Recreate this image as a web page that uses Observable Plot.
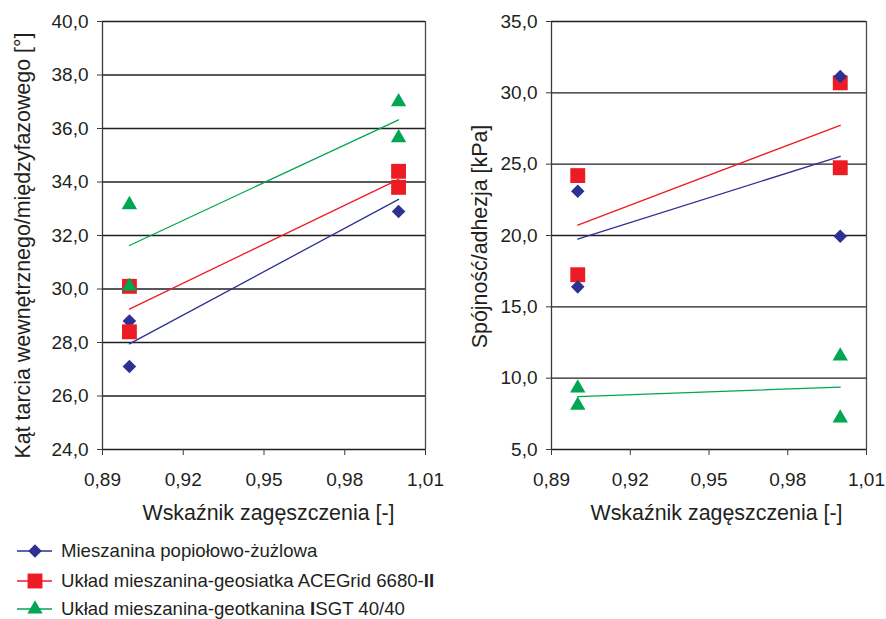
<!DOCTYPE html>
<html><head><meta charset="utf-8">
<script src="https://cdn.jsdelivr.net/npm/d3@7"></script>
<script src="https://cdn.jsdelivr.net/npm/@observablehq/plot@0.6"></script>
<style>
body{margin:0;background:#fff;font-family:"Liberation Sans",Arial,sans-serif;color:#231f20;}
#wrap{position:relative;width:886px;height:619px;overflow:hidden;}
#left{position:absolute;left:0;top:0}
#right{position:absolute;left:443px;top:0}
.lg{position:absolute;left:0;height:24px;width:700px;}
.lg svg{position:absolute;left:15px;top:0}
.lg span{position:absolute;left:61px;top:0;line-height:24px;font-size:18.6px;white-space:nowrap}
</style></head><body>
<div id="wrap"><div id="left"></div><div id="right"></div><div id="legend"></div></div>
<script>
// ---- data ----
const seriesNames = [
  "Mieszanina popiołowo-żużlowa",
  "Układ mieszanina-geosiatka ACEGrid 6680-II",
  "Układ mieszanina-geotkanina ISGT 40/40"
];
const seriesColors = ["#2E3192", "#ED1C24", "#00A651"];
const seriesSymbols = ["diamond2", "square", "triangle"];
const symbolRadius = [6.1, 8.4, 5.7];

const xValues = [0.90, 0.90, 1.00, 1.00];
// Kąt tarcia [°]
const phiMix  = [28.8, 27.1, 32.9, 33.8];
const phiGrid = [30.1, 28.4, 34.4, 33.8];
const phiTex  = [33.15, 30.1, 37.0, 35.65];
// Spójność/adhezja [kPa]
const cMix  = [23.1, 16.4, 31.15, 19.95];
const cGrid = [24.2, 17.25, 30.7, 24.75];
const cTex  = [9.3, 8.1, 11.55, 7.2];

const xTicks = [0.89, 0.92, 0.95, 0.98, 1.01];
const yTicksLeft = [24, 26, 28, 30, 32, 34, 36, 38, 40];
const yTicksRight = [5, 10, 15, 20, 25, 30, 35];
const yLabelLeft = "Kąt tarcia wewnętrznego/międzyfazowego [°]";
const yLabelRight = "Spójność/adhezja [kPa]";
const xTitle = "Wskaźnik zagęszczenia [-]";

// ---- build ----
function rowsOf(valueArrays) {
  const rows = [];
  valueArrays.forEach((vals, s) => vals.forEach((v, i) => rows.push({x: xValues[i], y: v, s})));
  return rows;
}
const fmtX = d => d.toFixed(2).replace(".", ",");
const fmtY = d => d.toFixed(1).replace(".", ",");
const ink = "#231f20";

function panel({rows, order, yDomain, yTicks, yLabel, marginLeft, marginRight, labelDx, labelDy, titleDx}) {
  const marks = [
    Plot.gridY(yTicks, {stroke: ink, strokeOpacity: 1, strokeWidth: 1.4}),
    Plot.ruleX([xTicks[0]], {stroke: "#3a3a3a", strokeWidth: 1.3}),
    Plot.ruleX([xTicks[xTicks.length - 1]], {stroke: "#4a4a4a", strokeWidth: 1.3}),
    Plot.axisY(yTicks, {tickFormat: fmtY, tickSize: 5, tickPadding: 9, label: null, fontSize: 19, stroke: "#3a3a3a"}),
    Plot.axisX(xTicks, {tickFormat: fmtX, tickSize: 6, tickPadding: 17, label: null, fontSize: 19, stroke: "#3a3a3a"})
  ];
  for (const s of order) {
    marks.push(Plot.linearRegressionY(rows.filter(d => d.s === s), {x: "x", y: "y", stroke: seriesColors[s], strokeWidth: 1.3, ci: 0}));
  }
  for (const s of order) {
    marks.push(Plot.dot(rows.filter(d => d.s === s), {x: "x", y: "y", symbol: () => seriesSymbols[s], r: symbolRadius[s], fill: seriesColors[s], stroke: "none"}));
  }
  marks.push(Plot.text([yLabel], {frameAnchor: "left", textAnchor: "middle", lineAnchor: "middle", rotate: -90, dx: labelDx, dy: labelDy, fontSize: 21.4, fill: ink}));
  marks.push(Plot.text([xTitle], {frameAnchor: "bottom", textAnchor: "middle", lineAnchor: "middle", dx: titleDx, dy: 64, fontSize: 21.4, fill: ink}));
  return Plot.plot({
    width: 443, height: 530,
    marginLeft, marginRight, marginTop: 21, marginBottom: 81,
    x: {domain: [xTicks[0], xTicks[xTicks.length - 1]]},
    y: {domain: yDomain},
    style: {fontFamily: "'Liberation Sans', Arial, sans-serif", fontSize: "19px", color: ink, background: "transparent", overflow: "visible"},
    marks
  });
}

document.getElementById("left").appendChild(panel({
  rows: rowsOf([phiMix, phiGrid, phiTex]), order: [0, 1, 2],
  yDomain: [24, 40], yTicks: yTicksLeft, yLabel: yLabelLeft,
  marginLeft: 102, marginRight: 18, labelDx: -79, labelDy: 10, titleDx: 4.5
}));
document.getElementById("right").appendChild(panel({
  rows: rowsOf([cMix, cGrid, cTex]), order: [1, 0, 2],
  yDomain: [5, 35], yTicks: yTicksRight, yLabel: yLabelRight,
  marginLeft: 108, marginRight: 20, labelDx: -71, labelDy: 1, titleDx: 7.5
}));

// ---- legend ----
const legendCenters = [551, 581, 609];
const legend = document.getElementById("legend");
const symPaths = {
  diamond2: d3.symbol(d3.symbolDiamond2, Math.PI * symbolRadius[0] ** 2)(),
  square: d3.symbol(d3.symbolSquare, Math.PI * symbolRadius[1] ** 2)(),
  triangle: d3.symbol(d3.symbolTriangle, Math.PI * symbolRadius[2] ** 2)()
};
seriesNames.forEach((name, i) => {
  const row = document.createElement("div");
  row.className = "lg";
  row.style.top = (legendCenters[i] - 12) + "px";
  const label = name.replace("6680-II", "6680-<b>II</b>").replace(" ISGT", " <b>I</b>SGT");
  row.innerHTML = `<svg width="40" height="24"><line x1="2" x2="37" y1="12" y2="12" stroke="${seriesColors[i]}" stroke-width="1.3"/><path transform="translate(20,12)" d="${symPaths[seriesSymbols[i]]}" fill="${seriesColors[i]}"/></svg><span>${label}</span>`;
  legend.appendChild(row);
});
</script>
</body></html>
